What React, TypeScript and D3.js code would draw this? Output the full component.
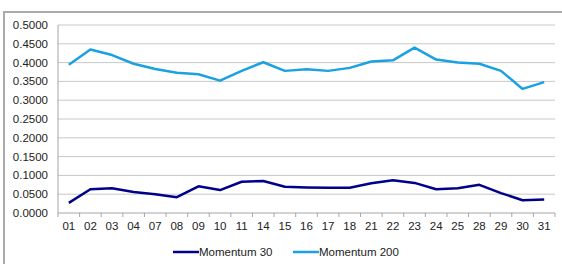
import React from "react";
import * as d3 from "d3";

const days = ["01", "02", "03", "04", "07", "08", "09", "10", "11", "14", "15", "16", "17", "18", "21", "22", "23", "24", "25", "28", "29", "30", "31"];
const momentum30 = [0.027, 0.063, 0.066, 0.056, 0.050, 0.042, 0.071, 0.061, 0.083, 0.085, 0.070, 0.068, 0.067, 0.067, 0.079, 0.087, 0.080, 0.063, 0.066, 0.075, 0.053, 0.034, 0.036];
const momentum200 = [0.394, 0.435, 0.420, 0.397, 0.383, 0.373, 0.369, 0.352, 0.378, 0.401, 0.378, 0.382, 0.378, 0.386, 0.403, 0.406, 0.440, 0.408, 0.400, 0.397, 0.378, 0.330, 0.348];
const yTicks = [0, 0.05, 0.1, 0.15, 0.2, 0.25, 0.3, 0.35, 0.4, 0.45, 0.5];

const series = [
  { name: "Momentum 30", values: momentum30, color: "#00008B" },
  { name: "Momentum 200", values: momentum200, color: "#1BA1E2" },
];

const App: React.FC = () => {
  const width = 562;
  const height = 264;
  const margin = { top: 25, right: 7, bottom: 51, left: 58 };
  const plotW = width - margin.left - margin.right;
  const plotH = height - margin.top - margin.bottom;

  const x = d3.scaleBand().domain(days).range([0, plotW]);
  const y = d3.scaleLinear().domain([0, 0.5]).range([plotH, 0]);
  const fmt = d3.format(".4f");

  const line = d3
    .line<number>()
    .x((_, i) => x(days[i])! + x.bandwidth() / 2)
    .y((d) => y(d));

  const font = "'Liberation Sans', Arial, sans-serif";

  return (
    <svg
      width={width}
      height={height}
      style={{ position: "absolute", left: 0, top: 0, fontFamily: font }}
    >
      <rect x={0} y={0} width={width} height={height} fill="#fff" />
      {/* chart frame: only top and left edges fall inside the picture */}
      <line x1={3} x2={width} y1={12} y2={12} stroke="#ABABAB" strokeWidth={2} />
      <line x1={4} x2={4} y1={11} y2={height} stroke="#ABABAB" strokeWidth={2} />
      <g transform={`translate(${margin.left},${margin.top})`}>
        {yTicks.map((t) => (
          <g key={t}>
            {t > 0 && (
              <line x1={0} x2={plotW} y1={y(t)} y2={y(t)} stroke="#C8C8C8" strokeWidth={1} />
            )}
            <text x={-10} y={y(t)} dy="0.35em" textAnchor="end" fontSize={11.5} fill="#222">
              {fmt(t)}
            </text>
          </g>
        ))}
        <line x1={0} x2={0} y1={0} y2={plotH} stroke="#A6A6A6" />
        <line x1={0} x2={plotW} y1={plotH} y2={plotH} stroke="#A6A6A6" />
        {days.map((d, i) => (
          <g key={d}>
            <line
              x1={x(d)! + x.bandwidth()}
              x2={x(d)! + x.bandwidth()}
              y1={plotH}
              y2={plotH + 4}
              stroke="#A6A6A6"
            />
            {i === 0 && <line x1={0} x2={0} y1={plotH} y2={plotH + 4} stroke="#A6A6A6" />}
            <text
              x={x(d)! + x.bandwidth() / 2}
              y={plotH + 17}
              textAnchor="middle"
              fontSize={11.5}
              fill="#222"
            >
              {d}
            </text>
          </g>
        ))}
        {series.map((s) => (
          <path
            key={s.name}
            d={line(s.values)!}
            fill="none"
            stroke={s.color}
            strokeWidth={2.5}
            strokeLinejoin="round"
          />
        ))}
      </g>
      {series.map((s, i) => {
        const lx = i === 0 ? 173 : 293;
        return (
          <g key={s.name} transform={`translate(${lx},252)`}>
            <line x1={0} x2={26} y1={0} y2={0} stroke={s.color} strokeWidth={2.5} />
            <text x={26} y={0} dy="0.35em" fontSize={11.5} fill="#222">
              {s.name}
            </text>
          </g>
        );
      })}
    </svg>
  );
};

export default App;
